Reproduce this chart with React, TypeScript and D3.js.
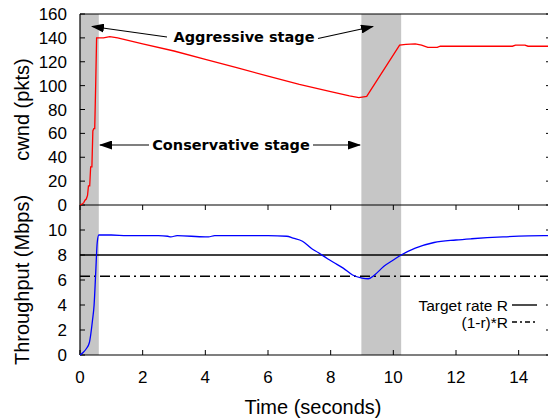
import React from 'react';
import * as d3 from 'd3';

// cwnd trace (packets) over time (s)
const cwndTime = [0, 0.08, 0.12, 0.16, 0.2, 0.24, 0.27, 0.31, 0.34, 0.38, 0.41, 0.44, 0.47, 0.5, 0.53, 0.56, 0.75, 0.95, 1.2, 2, 3, 4, 5, 6, 7, 8, 8.6, 8.9, 9.15, 10.2, 10.4, 10.7, 10.9, 11.1, 11.4, 11.5, 13.8, 13.9, 14.2, 14.3, 15];
const cwndValues = [0, 1, 2, 4, 5, 8, 16, 16, 32, 32, 62, 64, 64, 100, 140, 140, 140, 141, 140, 135, 129, 122, 115, 108, 101, 95, 91.5, 90, 91, 134, 134.5, 135, 134, 132, 132, 133, 133, 134, 134, 133, 133];

// throughput trace (Mbps)
const tputTime = [0, 0.1, 0.2, 0.3, 0.4, 0.45, 0.5, 0.55, 0.6, 1, 1.5, 2, 2.5, 2.8, 2.9, 3.1, 4, 4.1, 4.3, 5, 6, 6.6, 6.8, 7.1, 7.4, 7.6, 7.9, 8.1, 8.4, 8.7, 9.0, 9.2, 9.4, 9.7, 10.0, 10.25, 10.7, 11.3, 12, 12.5, 13.5, 14.8, 15];
const tputValues = [0, 0.2, 0.5, 1.0, 2.8, 4.0, 6.5, 9.0, 9.6, 9.6, 9.55, 9.55, 9.55, 9.5, 9.45, 9.55, 9.45, 9.45, 9.55, 9.55, 9.55, 9.5, 9.35, 9.1, 8.5, 8.2, 7.7, 7.4, 6.95, 6.4, 6.15, 6.1, 6.4, 7.1, 7.6, 8.0, 8.55, 9.0, 9.2, 9.3, 9.45, 9.55, 9.55];

const targetRate = 8;
const lowerRate = 6.3;

// aggressive stage windows (s)
const stageStart = [0, 8.98];
const stageEnd = [0.6, 10.25];

const xTicks = [0, 2, 4, 6, 8, 10, 12, 14];
const cwndTicks = [0, 20, 40, 60, 80, 100, 120, 140, 160];
const tputTicks = [0, 2, 4, 6, 8, 10];

const W = 548;
const H = 420;
const left = 80;
const right = 550;
const top = 14;
const mid = 205;
const bottom = 355;
const tick = 5;

const tickFont = '"Liberation Sans", Arial, sans-serif';

export default function App() {
  const x = d3.scaleLinear().domain([0, 15]).range([left, right]);
  const yC = d3.scaleLinear().domain([0, 160]).range([mid, top]);
  const yT = d3.scaleLinear().domain([0, 12]).range([bottom, mid]);

  const cwndLine = d3
    .line<number>()
    .x((d, i) => x(cwndTime[i]))
    .y((d) => yC(d));
  const tputLine = d3
    .line<number>()
    .x((d, i) => x(tputTime[i]))
    .y((d) => yT(d))
    .curve(d3.curveMonotoneX);

  return (
    <div style={{ position: 'absolute', left: 0, top: 0 }}>
      <svg width={W} height={H} style={{ display: 'block', background: 'white' }}>
        <defs>
          <marker id="head" markerUnits="userSpaceOnUse" markerWidth={13} markerHeight={9} refX={12} refY={4.5} orient="auto">
            <path d="M0,0 L13,4.5 L0,9 Z" fill="black" />
          </marker>
        </defs>

        {/* shaded aggressive stages */}
        {stageStart.map((s, i) => (
          <rect key={i} x={x(s)} y={top} width={x(stageEnd[i]) - x(s)} height={bottom - top} fill="#c6c6c6" />
        ))}

        {/* frame */}
        <g stroke="black" strokeWidth={1.2} fill="none">
          <line x1={left} x2={right} y1={top} y2={top} />
          <line x1={left} x2={right} y1={mid} y2={mid} />
          <line x1={left} x2={right} y1={bottom} y2={bottom} />
          <line x1={left} x2={left} y1={top} y2={bottom} />
        </g>

        {/* ticks */}
        <g stroke="black" strokeWidth={1}>
          {cwndTicks.map((t) => (
            <g key={'c' + t}>
              <line x1={left} x2={left + tick} y1={yC(t)} y2={yC(t)} />
              <line x1={right - 4} x2={right} y1={yC(t)} y2={yC(t)} />
            </g>
          ))}
          {tputTicks.map((t) => (
            <g key={'t' + t}>
              <line x1={left} x2={left + tick} y1={yT(t)} y2={yT(t)} />
              <line x1={right - 4} x2={right} y1={yT(t)} y2={yT(t)} />
            </g>
          ))}
          {xTicks.map((t) => (
            <g key={'x' + t}>
              <line x1={x(t)} x2={x(t)} y1={bottom} y2={bottom - tick} />
              <line x1={x(t)} x2={x(t)} y1={mid} y2={mid + tick} />
            </g>
          ))}
        </g>

        {/* tick labels */}
        <g fontFamily={tickFont} fontSize={17} fill="black">
          {cwndTicks.map((t) => (
            <text key={'cl' + t} x={left - 13} y={yC(t)} dy="0.36em" textAnchor="end">
              {t}
            </text>
          ))}
          {tputTicks.map((t) => (
            <text key={'tl' + t} x={left - 13} y={yT(t)} dy="0.36em" textAnchor="end">
              {t}
            </text>
          ))}
          {xTicks.map((t) => (
            <text key={'xl' + t} x={x(t)} y={383} textAnchor="middle">
              {t}
            </text>
          ))}
        </g>

        {/* axis titles */}
        <g fontFamily={tickFont} fontSize={20} fill="black">
          <text x={x(7.5) - 2} y={414} textAnchor="middle">Time (seconds)</text>
          <text transform={`translate(29,${(top + mid) / 2}) rotate(-90)`} textAnchor="middle">cwnd (pkts)</text>
          <text transform={`translate(29,${(mid + bottom) / 2}) rotate(-90)`} textAnchor="middle">Throughput (Mbps)</text>
        </g>

        {/* reference rates */}
        <line x1={left} x2={right} y1={yT(targetRate)} y2={yT(targetRate)} stroke="black" strokeWidth={1.4} />
        <line x1={left} x2={right} y1={yT(lowerRate)} y2={yT(lowerRate)} stroke="black" strokeWidth={1.4} strokeDasharray="10,4,2,4" />

        {/* data */}
        <path d={cwndLine(cwndValues) ?? ''} fill="none" stroke="#ff0000" strokeWidth={1.3} />
        <path d={tputLine(tputValues) ?? ''} fill="none" stroke="#0000ff" strokeWidth={1.3} />

        {/* legend */}
        <g fontFamily={tickFont} fontSize={15.5} fill="black">
          <text x={508} y={305.5} dy="0.35em" textAnchor="end">Target rate R</text>
          <text x={508} y={322.5} dy="0.35em" textAnchor="end">(1-r)*R</text>
        </g>
        <line x1={512} x2={537} y1={305} y2={305} stroke="black" strokeWidth={1.4} />
        <line x1={512} x2={537} y1={322} y2={322} stroke="black" strokeWidth={1.4} strokeDasharray="5,3,2,3" />

        {/* annotations */}
        <g fontFamily='"DejaVu Sans", sans-serif' fontWeight="bold" fontSize={14.5} fill="black">
          <text x={244} y={42} textAnchor="middle">Aggressive stage</text>
          <text x={231} y={150} textAnchor="middle">Conservative stage</text>
        </g>
        <g stroke="black" strokeWidth={1.2} fill="none">
          <line x1={167} y1={37} x2={92} y2={26.5} markerEnd="url(#head)" />
          <line x1={318} y1={38.5} x2={373} y2={26.5} markerEnd="url(#head)" />
          <line x1={149} y1={145} x2={100} y2={145} markerEnd="url(#head)" />
          <line x1={313} y1={145} x2={360} y2={145} markerEnd="url(#head)" />
        </g>
      </svg>
    </div>
  );
}
